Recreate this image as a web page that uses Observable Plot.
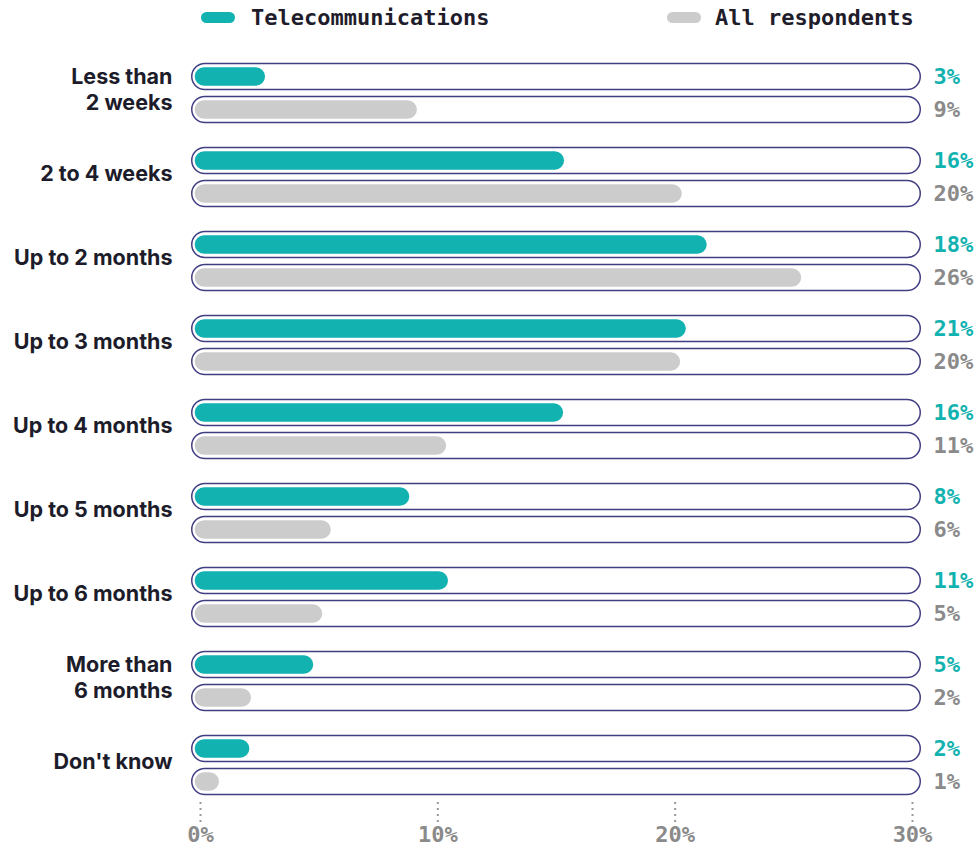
<!DOCTYPE html>
<html>
<head>
<meta charset="utf-8">
<script src="https://cdn.jsdelivr.net/npm/d3@7"></script>
<script src="https://cdn.jsdelivr.net/npm/@observablehq/plot@0.6"></script>
<style>
  html, body { margin: 0; padding: 0; background: #ffffff; }
  #wrap { position: relative; width: 978px; height: 847px; }
  #legend { position: absolute; left: 0; top: 0; width: 978px; height: 40px; }
  .sw { position: absolute; top: 12px; width: 34px; height: 11px; border-radius: 6px; }
  .lt { position: absolute; top: 4px; font-family: "DejaVu Sans Mono", monospace; font-weight: bold; font-size: 22px; line-height: 28px; color: #1f1d2b; white-space: nowrap; }
  #chart { position: absolute; left: 0; top: 40px; }
</style>
</head>
<body>
<div id="wrap">
  <div id="legend">
    <div class="sw" style="left:201px;background:#12b2b0"></div>
    <div class="lt" style="left:251px">Telecommunications</div>
    <div class="sw" style="left:667px;background:#cccccc"></div>
    <div class="lt" style="left:715px">All respondents</div>
  </div>
  <div id="chart"></div>
</div>
<script>
// Categories (line breaks as shown)
const categories = [
  "Less than\n2 weeks",
  "2 to 4 weeks",
  "Up to 2 months",
  "Up to 3 months",
  "Up to 4 months",
  "Up to 5 months",
  "Up to 6 months",
  "More than\n6 months",
  "Don't know"
];
// Bar lengths as drawn (percent)
const telecomValues = [2.74, 15.34, 21.35, 20.47, 15.30, 8.82, 10.45, 4.77, 2.08];
const allValues     = [9.14, 20.30, 25.33, 20.23, 10.37, 5.51, 5.15, 2.15, 0.80];
// Value labels as printed
const telecomLabels = ["3%", "16%", "18%", "21%", "16%", "8%", "11%", "5%", "2%"];
const allLabels     = ["9%", "20%", "26%", "20%", "11%", "6%", "5%", "2%", "1%"];
// Axis ticks
const xTicks = [0, 10, 20, 30];
const xMax = 30;

const tele = categories.map((c, i) => ({cat: c, value: telecomValues[i], label: telecomLabels[i], max: xMax}));
const all  = categories.map((c, i) => ({cat: c, value: allValues[i], label: allLabels[i], max: xMax}));

const TEAL = "#12b2b0", GREY = "#cccccc", TRACK = "#423e82";
const mono = "'DejaVu Sans Mono', monospace";

const chart = Plot.plot({
  width: 978,
  height: 807,
  marginLeft: 200,
  marginRight: 66,
  marginTop: 19.5,
  marginBottom: 45,
  style: {background: "transparent", fontFamily: "Inter, sans-serif", overflow: "visible"},
  x: {domain: [0, xMax], axis: null},
  y: {type: "band", domain: categories, range: [19.5, 757.5], paddingInner: 0.2143, paddingOuter: 0, axis: null},
  marks: [
    // tracks
    Plot.barX(tele, {y: "cat", x1: 0, x2: "max", insetTop: 3.5, insetBottom: 36.5, insetLeft: -8.25, insetRight: -8.25, rx: 13, fill: "white", stroke: TRACK, strokeWidth: 1.5}),
    Plot.barX(all,  {y: "cat", x1: 0, x2: "max", insetTop: 36.5, insetBottom: 3.5, insetLeft: -8.25, insetRight: -8.25, rx: 13, fill: "white", stroke: TRACK, strokeWidth: 1.5}),
    // bars
    Plot.barX(tele, {y: "cat", x: "value", insetTop: 7.2, insetBottom: 40.2, insetLeft: -5.3, rx: 9.3, fill: TEAL}),
    Plot.barX(all,  {y: "cat", x: "value", insetTop: 40.2, insetBottom: 7.2, insetLeft: -5.3, rx: 9.3, fill: GREY}),
    // value labels
    Plot.text(tele, {y: "cat", x: "max", text: "label", dx: 21, dy: -16.5, textAnchor: "start", fill: TEAL, fontFamily: mono, fontWeight: "bold", fontSize: 22}),
    Plot.text(all,  {y: "cat", x: "max", text: "label", dx: 21, dy: 16.5, textAnchor: "start", fill: "#8a8a8a", fontFamily: mono, fontWeight: "bold", fontSize: 22}),
    // category labels
    Plot.text(categories, {y: d => d, frameAnchor: "left", text: d => d, dx: -28, dy: -5, textAnchor: "end", lineHeight: 1.2, fill: "#1d1c2a", fontFamily: "Inter, sans-serif", fontWeight: 700, fontSize: 21.5}),
    // x axis
    Plot.axisX({ticks: xTicks, tickFormat: d => d + "%", tickSize: 20, tickPadding: 4, stroke: "#999999", strokeWidth: 2, strokeDasharray: "2,4", fill: "#8a8a8a", fontFamily: mono, fontWeight: "bold", fontSize: 22})
  ]
});
document.getElementById("chart").appendChild(chart);
</script>
</body>
</html>
